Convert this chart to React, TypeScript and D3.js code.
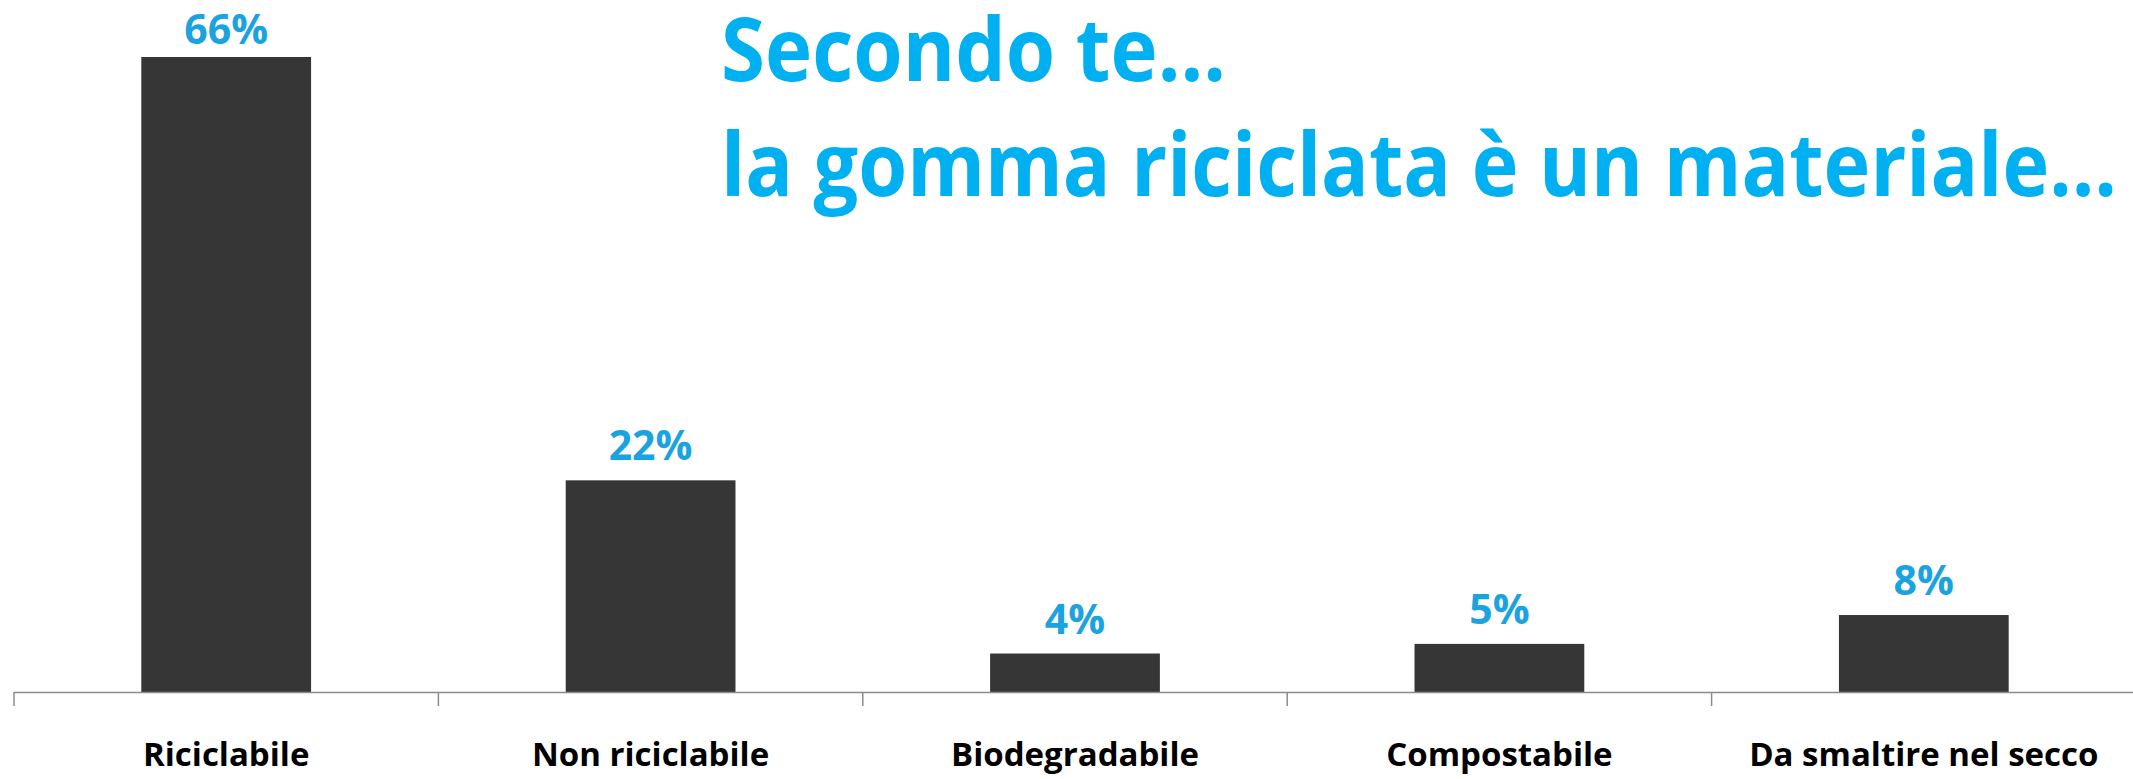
import React from "react";
import * as d3 from "d3";

const categories = ["Riciclabile", "Non riciclabile", "Biodegradabile", "Compostabile", "Da smaltire nel secco"];
const values = [66, 22, 4, 5, 8];
const titleLines = ["Secondo te…", "la gomma riciclata è un materiale…"];

const W = 2133;
const H = 779;
const FONT = "'Open Sans', 'Noto Sans', sans-serif";

export default function App() {
  const x = d3.scaleBand<string>().domain(categories).range([14, 2136]).paddingInner(0.6).paddingOuter(0.3);
  const y = d3.scaleLinear().domain([0, 66]).range([692, 57]);
  const step = x.step();
  const x0 = x.range()[0];
  const ticks = d3.range(categories.length + 1).map((i) => x0 + i * step);

  return (
    <svg width={W} height={H} style={{ position: "absolute", left: 0, top: 0, background: "#fff" }} fontFamily={FONT}>
      {categories.map((c, i) => (
        <rect key={c} x={x(c)} y={y(values[i])} width={x.bandwidth()} height={y(0) - y(values[i])} fill="#363636" />
      ))}
      {/* axis */}
      <line x1={x0} x2={W} y1={y(0) + 0.5} y2={y(0) + 0.5} stroke="#8c8c8c" strokeWidth={1.5} />
      {ticks.map((t, i) => (
        <line key={i} x1={t} x2={t} y1={y(0)} y2={y(0) + 14} stroke="#8c8c8c" strokeWidth={1.5} />
      ))}
      {/* value labels, kept inside the plot at the top */}
      {categories.map((c, i) => (
        <text
          key={"v" + c}
          x={x(c)! + x.bandwidth() / 2}
          y={Math.max(y(values[i]) - 20, 44)}
          textAnchor="middle"
          fontSize={41}
          fontWeight="bold"
          fill="#1ba3e0"
        >
          {values[i]}%
        </text>
      ))}
      {/* category labels */}
      {categories.map((c) => (
        <text key={"c" + c} x={x(c)! + x.bandwidth() / 2} y={766} textAnchor="middle" fontSize={33} fontWeight="bold" fill="#000">
          {c}
        </text>
      ))}
      {/* title */}
      <text x={721} y={81} fontSize={88} fontWeight="bold" fill="#00b0f0" textLength={505} lengthAdjust="spacingAndGlyphs">
        {titleLines[0]}
      </text>
      <text x={721} y={196} fontSize={88} fontWeight="bold" fill="#00b0f0" textLength={1396} lengthAdjust="spacingAndGlyphs">
        {titleLines[1]}
      </text>
    </svg>
  );
}
